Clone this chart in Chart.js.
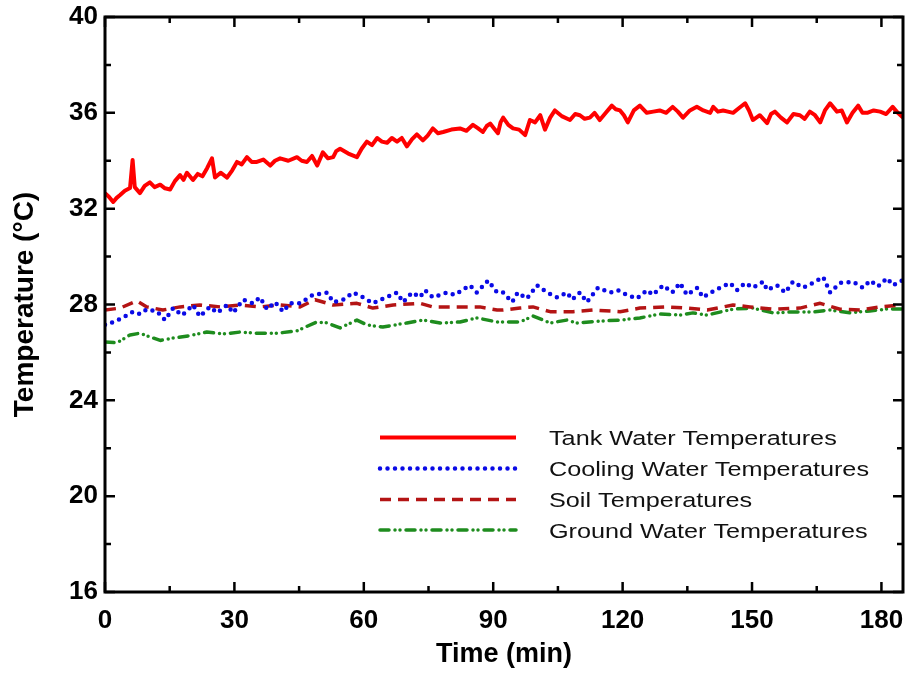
<!DOCTYPE html>
<html>
<head>
<meta charset="utf-8">
<script src="https://cdn.jsdelivr.net/npm/chart.js@4.4.0/dist/chart.umd.min.js"></script>
<style>
html,body{margin:0;padding:0;background:#fff;}
canvas{display:block;}
</style>
</head>
<body>
<canvas id="c" width="909" height="692"></canvas>
<script>
// ---- data ----
const tankTime = [0,0.9,1.9,2.7,3.5,4.6,5.8,6.4,6.9,8.1,9.2,10.4,11.5,12.8,13.9,15.1,16.2,17.4,18.2,19.0,20.4,21.5,22.6,23.7,24.8,25.5,26.8,28.3,29.5,30.6,31.7,32.9,34.0,35.2,36.7,38.3,39.4,40.6,42.5,44.5,45.6,46.8,48.0,49.2,50.5,51.7,52.9,53.6,54.5,56.4,58.4,59.5,60.7,61.9,63.1,64.2,65.4,66.5,67.7,68.8,70.0,71.2,72.3,73.7,74.8,76.0,77.2,78.4,80.3,82.3,83.8,85.3,86.5,87.6,88.5,89.3,90.2,91.1,91.7,92.3,93.5,94.6,96.0,97.4,98.5,99.7,100.9,102.0,103.2,104.3,106.0,107.8,109.0,110.1,111.2,112.4,113.5,114.7,116.1,117.5,118.4,119.4,120.3,121.2,122.6,124.0,125.6,127.1,128.6,130.1,131.6,132.8,134.0,135.6,137.2,138.7,140.3,141.0,142.1,143.3,144.4,145.6,147.0,148.4,149.3,150.2,151.8,153.5,154.4,155.3,156.7,158.1,159.6,161.1,162.2,163.4,164.6,165.8,166.9,168.1,169.7,170.8,172.0,173.3,174.6,175.6,176.7,178.2,179.7,181.1,182.6,183.8,185];
const tankTemp = [32.65,32.5,32.28,32.45,32.57,32.75,32.86,34.03,32.9,32.65,32.95,33.1,32.9,33.0,32.85,32.8,33.15,33.4,33.2,33.5,33.2,33.45,33.35,33.7,34.1,33.3,33.5,33.3,33.6,33.95,33.85,34.15,33.95,33.95,34.05,33.8,34.0,34.1,34.0,34.15,34.0,33.95,34.2,33.8,34.35,34.1,34.15,34.4,34.5,34.3,34.15,34.5,34.8,34.65,34.95,34.8,34.75,34.95,34.8,34.95,34.6,34.9,35.1,34.85,35.05,35.35,35.15,35.2,35.3,35.35,35.25,35.5,35.35,35.2,35.45,35.55,35.35,35.15,35.6,35.8,35.5,35.35,35.3,35.07,35.7,35.6,35.9,35.3,35.8,36.1,35.85,35.7,35.95,35.9,35.75,35.8,36.0,35.7,36.0,36.3,36.15,36.1,35.9,35.6,36.1,36.3,36.0,36.05,36.1,36.0,36.25,36.05,35.8,36.1,36.25,36.1,36.0,36.25,36.05,36.1,36.05,36.0,36.2,36.4,36.1,35.7,35.9,35.57,35.95,36.05,35.8,35.6,35.95,35.9,35.75,36.05,35.9,35.6,36.1,36.4,36.05,36.1,35.6,36.0,36.3,36.0,36.0,36.1,36.05,35.95,36.25,36.0,35.8];

const coolTime = [0,1.9,3.5,4.6,6.5,8.1,9.7,12.1,13.9,15.8,17.9,20.4,22.0,24.3,26.0,28.3,29.7,32.0,34.3,35.9,37.6,39.4,41.3,42.9,45.2,48.2,51.5,52.9,55.2,57.5,59.8,62.1,64.5,67.7,69.1,71.2,73.0,74.2,76.0,79.3,81.1,84.6,86.2,88.8,90.9,92.3,94.4,95.7,97.8,100.2,102.5,104.8,107.1,108.3,110.1,111.7,114.3,117.1,118.9,121.0,123.3,125.7,127.0,129.4,131.5,133.3,134.9,137.3,138.6,141.4,144.9,146.5,148.4,150.2,152.6,153.5,155.8,157.7,159.5,161.8,164.1,166.5,168.1,170.4,173.4,175.7,177.4,179.2,181.3,182.7,184.8];
const coolTemp = [27.15,27.27,27.4,27.5,27.7,27.6,27.8,27.7,27.35,27.85,27.55,27.98,27.5,27.9,27.65,27.98,27.65,28.2,28.05,28.3,27.8,28.1,27.7,28.05,28.05,28.4,28.5,28.1,28.2,28.5,28.3,28.05,28.25,28.5,28.1,28.5,28.3,28.6,28.3,28.5,28.4,28.8,28.5,29.0,28.5,28.5,28.1,28.5,28.25,28.8,28.5,28.3,28.5,28.2,28.5,28.1,28.7,28.5,28.6,28.4,28.25,28.6,28.4,28.8,28.5,28.9,28.4,28.7,28.3,28.6,28.9,28.6,28.9,28.7,28.95,28.6,28.8,28.5,28.95,28.7,28.9,29.15,28.5,28.9,28.95,28.7,29.0,28.75,29.1,28.8,29.0];

const soilTime = [0,3.5,7.4,9.7,13.4,17.4,22.0,26.7,31.3,35.9,40.6,45.2,48.7,52.9,58.4,62.1,66.8,73.0,76.0,80.7,86.9,90.9,92.3,96.2,99.2,103.2,108.5,113.1,119.4,124.0,130.3,134.9,139.6,145.6,149.5,154.9,161.1,165.8,170.4,175.0,179.7,184.3];
const soilTemp = [27.77,27.85,28.15,27.9,27.77,27.9,27.98,27.9,27.98,27.9,27.98,27.9,28.2,27.98,28.05,27.85,27.98,28.05,27.9,27.9,27.9,27.77,27.77,27.85,27.9,27.7,27.7,27.77,27.7,27.85,27.9,27.85,27.77,27.98,27.9,27.8,27.85,28.05,27.8,27.77,27.9,27.98];

const groundTime = [0,2.8,5.8,8.1,10.4,12.8,15.8,19.7,23.6,27.4,31.3,35.2,39.9,44.5,49.1,51.5,54.5,58.4,60.7,64.4,70.0,73.7,77.7,82.3,86.2,90.9,93.2,96.2,99.2,103.2,107.1,109.4,114.8,119.4,124.0,128.7,133.3,136.3,139.6,145.6,150.2,154.9,159.5,164.1,168.1,172.7,177.3,181.3,184.8];
const groundTemp = [26.44,26.4,26.73,26.8,26.65,26.5,26.6,26.7,26.85,26.77,26.85,26.8,26.8,26.9,27.27,27.23,27.02,27.35,27.15,27.06,27.23,27.35,27.23,27.27,27.44,27.27,27.27,27.27,27.52,27.23,27.35,27.23,27.31,27.35,27.44,27.6,27.56,27.65,27.56,27.81,27.85,27.65,27.69,27.69,27.77,27.65,27.73,27.81,27.81];

const seriesNames = ["Tank Water Temperatures","Cooling Water Temperatures","Soil Temperatures","Ground Water Temperatures"];
const xTickStep = 30, xMin = 0, xMax = 185;
const yTickStep = 4, yMin = 16, yMax = 40;

// ---- styles ----
const styles = [
  {color:'#ff0000', width:4, dash:[], cap:'butt'},
  {color:'#0a0ae6', width:4.5, dash:[0,7.5], cap:'round'},
  {color:'#b41414', width:3.5, dash:[11,7], cap:'butt'},
  {color:'#1e8c1e', width:3.5, dash:[9,6,0,5,0,6], cap:'round'}
];

function pts(t, v){ return t.map((x,i)=>({x:x, y:v[i]})); }
const allData = [pts(tankTime,tankTemp), pts(coolTime,coolTemp), pts(soilTime,soilTemp), pts(groundTime,groundTemp)];

const datasets = allData.map((d,i)=>({
  label: seriesNames[i],
  data: d,
  borderColor: styles[i].color,
  borderWidth: styles[i].width,
  borderDash: styles[i].dash,
  borderCapStyle: styles[i].cap,
  borderJoinStyle: 'round',
  pointRadius: 0,
  tension: 0,
  fill: false
}));

const framePlugin = {
  id:'frame',
  afterDraw(chart){
    const ctx = chart.ctx, a = chart.chartArea;
    const xs = chart.scales.x, ys = chart.scales.y;
    ctx.save();
    ctx.strokeStyle = '#000';
    ctx.lineWidth = 3;
    ctx.strokeRect(a.left, a.top, a.right-a.left, a.bottom-a.top);
    ctx.lineWidth = 2.5;
    ctx.beginPath();
    for (let v = xMin; v <= xMax; v += xTickStep/2) {
      const px = xs.getPixelForValue(v);
      const len = (v % xTickStep === 0) ? 10 : 6;
      ctx.moveTo(px, a.bottom); ctx.lineTo(px, a.bottom - len);
      ctx.moveTo(px, a.top); ctx.lineTo(px, a.top + len);
    }
    for (let v = yMin; v <= yMax; v += yTickStep/2) {
      const py = ys.getPixelForValue(v);
      const len = ((v - yMin) % yTickStep === 0) ? 10 : 6;
      ctx.moveTo(a.left, py); ctx.lineTo(a.left + len, py);
      ctx.moveTo(a.right, py); ctx.lineTo(a.right - len, py);
    }
    ctx.stroke();

    // legend
    const rowsY = [437.5, 468.5, 499.5, 530];
    const lx0 = 380, lx1 = 516, tx = 549;
    for (let i = 0; i < 4; i++) {
      const s = styles[i];
      ctx.beginPath();
      ctx.strokeStyle = s.color;
      ctx.lineWidth = s.width;
      ctx.setLineDash(s.dash);
      ctx.lineCap = s.cap;
      ctx.moveTo(lx0, rowsY[i]); ctx.lineTo(lx1, rowsY[i]);
      ctx.stroke();
      ctx.setLineDash([]);
      ctx.lineCap = 'butt';
      ctx.save();
      ctx.fillStyle = '#111';
      ctx.font = '20.5px "Liberation Sans", Arial, sans-serif';
      ctx.textBaseline = 'middle';
      ctx.translate(tx, rowsY[i] + 2);
      ctx.scale(1.23, 1);
      ctx.fillText(seriesNames[i], 0, 0);
      ctx.restore();
    }
    ctx.restore();
  }
};

new Chart(document.getElementById('c'), {
  type: 'line',
  data: { datasets },
  options: {
    responsive: false,
    animation: false,
    devicePixelRatio: 1,
    layout: { padding: { left: 0, top: 17, right: 6, bottom: 0 } },
    plugins: { legend: { display: false }, tooltip: { enabled: false } },
    scales: {
      x: {
        type: 'linear', min: xMin, max: xMax,
        afterFit(s){ s.height = 100; s.paddingLeft = 0; s.paddingRight = 0; },
        grid: { display: false, drawTicks: false },
        border: { display: false },
        ticks: { stepSize: xTickStep, includeBounds: false, padding: 13, color: '#000', maxRotation: 0,
          font: { family: '"Liberation Sans", Arial, sans-serif', size: 26, weight: 'bold' } },
        title: { display: true, text: 'Time (min)', color: '#000', padding: { top: 0, bottom: 21 },
          font: { family: '"Liberation Sans", Arial, sans-serif', size: 27, weight: 'bold' } }
      },
      y: {
        type: 'linear', min: yMin, max: yMax,
        afterFit(s){ s.width = 105; s.paddingTop = 0; s.paddingBottom = 0; },
        grid: { display: false, drawTicks: false },
        border: { display: false },
        ticks: { stepSize: yTickStep, includeBounds: false, padding: 7, color: '#000',
          font: { family: '"Liberation Sans", Arial, sans-serif', size: 26, weight: 'bold' } },
        title: { display: true, text: 'Temperature (°C)', color: '#000', padding: { top: 8, bottom: 0 },
          font: { family: '"Liberation Sans", Arial, sans-serif', size: 28, weight: 'bold' } }
      }
    }
  },
  plugins: [framePlugin]
});
</script>
</body>
</html>
